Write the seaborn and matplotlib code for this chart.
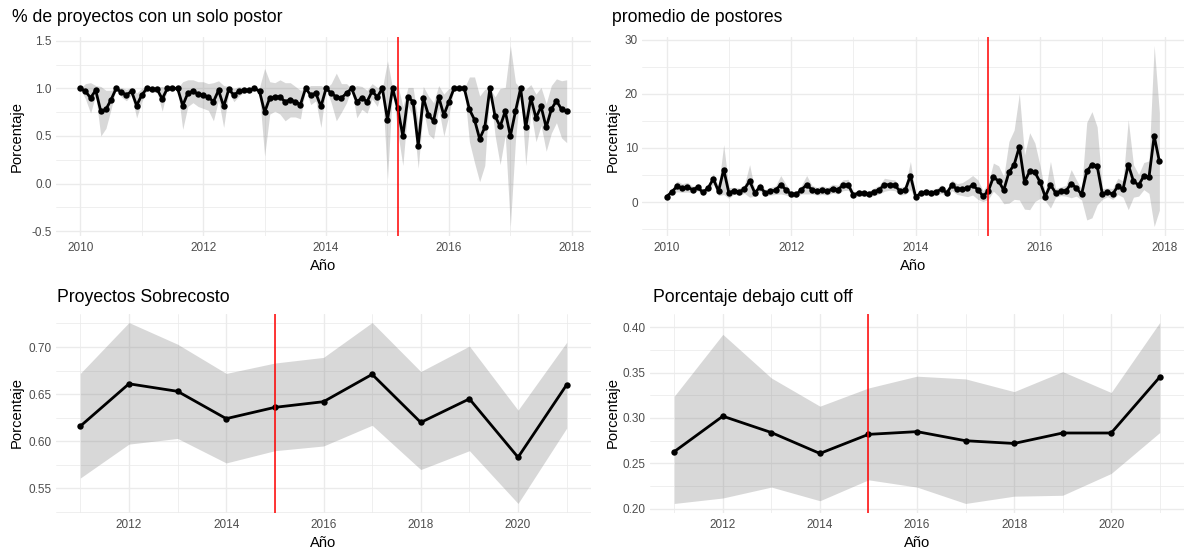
import numpy as np
import pandas as pd
import matplotlib
matplotlib.use("Agg")
import matplotlib.pyplot as plt
from matplotlib.ticker import MultipleLocator, FormatStrFormatter
import seaborn as sns

# --- Series mensuales (enero 2010 - diciembre 2017) ---
solo_postor = [
    1.00, 0.97, 0.90, 0.98, 0.76, 0.78, 0.88, 1.00, 0.96, 0.93, 0.97, 0.82,
    0.93, 1.00, 0.99, 0.99, 0.89, 1.00, 1.00, 1.00, 0.82, 0.95, 0.97, 0.94,
    0.93, 0.91, 0.86, 0.98, 0.81, 0.99, 0.93, 0.97,
    0.98, 0.98, 1.00, 0.97, 0.75, 0.90, 0.91, 0.91, 0.86, 0.88, 0.86, 0.83,
    1.00, 0.93, 0.95, 0.81, 1.00, 0.95, 0.91, 0.90, 0.95, 1.00, 0.86, 0.90,
    0.86, 0.97, 0.91, 1.00, 0.67, 1.00, 0.79,
    0.50, 0.91, 0.86, 0.40, 0.90, 0.72, 0.66, 0.91, 0.72, 0.86, 1.00, 1.00,
    1.00, 0.78, 0.67, 0.47, 0.59, 1.00, 0.71, 0.60, 0.76, 0.50, 0.76, 1.00,
    0.59, 0.90, 0.69, 0.81, 0.59, 0.78, 0.87, 0.78, 0.76,
]
solo_postor_margen = [
    0.00, 0.08, 0.16, 0.05, 0.26, 0.20, 0.10, 0.00, 0.05, 0.06, 0.04, 0.13,
    0.07, 0.02, 0.03, 0.03, 0.13, 0.00, 0.00, 0.00, 0.25, 0.14, 0.12, 0.13,
    0.14, 0.14, 0.20, 0.10, 0.22, 0.03, 0.07, 0.05,
    0.02, 0.02, 0.00, 0.04, 0.46, 0.17, 0.15, 0.18, 0.20, 0.18, 0.16, 0.15,
    0.00, 0.10, 0.08, 0.22, 0.00, 0.10, 0.25, 0.15, 0.10, 0.00, 0.17, 0.12,
    0.12, 0.08, 0.10, 0.00, 0.62, 0.00, 0.25,
    0.31, 0.10, 0.15, 0.24, 0.12, 0.20, 0.19, 0.12, 0.22, 0.14, 0.00, 0.00,
    0.00, 0.34, 0.45, 0.45, 0.40, 0.00, 0.20, 0.40, 0.25, 0.95, 0.30, 0.00,
    0.40, 0.14, 0.25, 0.20, 0.25, 0.25, 0.23, 0.30, 0.33,
]
postores = [
    1.0, 1.9, 2.9, 2.6, 2.75, 2.3, 2.7, 1.8, 2.6, 4.3, 2.0, 6.0,
    1.7, 2.1, 1.9, 2.4, 3.9, 1.7, 2.8, 1.7, 2.0, 2.2, 3.2, 2.3,
    1.4, 1.4, 2.3, 3.2, 2.3, 2.0,
    2.2, 2.0, 2.5, 2.3, 3.1, 3.2, 1.3, 1.7, 1.6, 1.5, 1.9, 2.3,
    3.2, 3.2, 3.1, 2.0, 2.2, 4.9, 1.0,
    1.6, 1.9, 1.7, 1.9, 2.4, 1.7, 3.1, 2.4, 2.4, 2.6, 3.1, 2.3, 1.1, 2.0,
    4.6, 3.9, 2.2, 5.5, 6.9, 10.2, 3.7, 5.7, 5.5, 3.7, 1.0, 3.2,
    1.7, 2.0, 2.1, 3.4, 2.6, 1.4, 5.7, 6.9, 6.7, 1.5, 1.8, 1.5,
    2.9, 2.4, 6.9, 3.9, 3.1, 4.8, 4.6, 12.2, 7.5,
]
postores_margen = [
    0.3, 0.5, 1.0, 0.8, 0.9, 0.6, 0.6, 0.5, 0.6, 1.0, 0.8, 4.6,
    1.0, 0.6, 0.7, 0.8, 3.0, 0.6, 0.8, 0.6, 0.7, 0.8, 1.7, 1.0,
    0.5, 0.5, 0.8, 1.7, 0.8, 0.7,
    0.8, 0.7, 0.8, 0.8, 1.0, 1.0, 0.5, 0.6, 0.5, 0.5, 0.7, 0.8,
    1.2, 1.0, 1.0, 0.7, 0.8, 2.6, 0.4,
    0.5, 0.6, 0.6, 0.6, 0.8, 0.6, 1.0, 1.0, 1.2, 1.6, 1.8, 1.8, 1.0, 1.5,
    2.6, 2.8, 2.5, 5.7, 6.4, 9.8, 5.0, 7.1, 5.4, 3.0, 0.8, 4.3,
    0.8, 0.8, 1.0, 2.6, 1.5, 1.0, 9.0, 9.8, 7.2, 1.0, 0.8, 1.0,
    1.5, 1.5, 8.3, 3.0, 2.0, 2.5, 3.0, 16.7, 9.0,
]

# --- Series anuales (2011 - 2021) ---
anios = [2011, 2012, 2013, 2014, 2015, 2016, 2017, 2018, 2019, 2020, 2021]
sobrecosto = [0.616, 0.661, 0.653, 0.624, 0.636, 0.642, 0.671, 0.620, 0.645, 0.583, 0.660]
sobrecosto_inf = [0.561, 0.597, 0.603, 0.577, 0.590, 0.595, 0.617, 0.570, 0.590, 0.534, 0.614]
sobrecosto_sup = [0.672, 0.726, 0.703, 0.672, 0.683, 0.689, 0.726, 0.674, 0.701, 0.633, 0.705]
cutoff = [0.263, 0.302, 0.284, 0.261, 0.282, 0.285, 0.275, 0.272, 0.2835, 0.2835, 0.345]
cutoff_inf = [0.206, 0.212, 0.224, 0.209, 0.232, 0.224, 0.206, 0.214, 0.215, 0.239, 0.284]
cutoff_sup = [0.324, 0.392, 0.344, 0.313, 0.333, 0.346, 0.343, 0.329, 0.351, 0.328, 0.405]

titulos = [
    "% de proyectos con un solo postor",
    "promedio de postores",
    "Proyectos Sobrecosto",
    "Porcentaje debajo cutt off",
]
etiqueta_x = "Año"
etiqueta_y = "Porcentaje"

# Fechas de corte (marzo 2015 para las series mensuales, 2015 para las anuales)
corte_mensual = pd.Timestamp("2015-03-01")
corte_anual = 2015

# ---------------------------------------------------------------
sns.set_theme(style="white")
plt.rcParams["font.family"] = ["Liberation Sans", "DejaVu Sans"]
plt.rcParams["axes.unicode_minus"] = False

W, H = 1185, 554
fig = plt.figure(figsize=(W / 100, H / 100), dpi=100)
fig.patch.set_facecolor("white")


def año_decimal(fechas):
    fechas = pd.DatetimeIndex(fechas)
    return np.asarray(fechas.year + (fechas.month - 1) / 12.0, dtype=float)


fechas = pd.date_range("2010-01-01", periods=len(solo_postor), freq="MS")
x_mes = año_decimal(fechas)
x_corte_mes = año_decimal([corte_mensual])[0]


def add_panel(left, right, top, bottom):
    return fig.add_axes([left / W, 1 - bottom / H, (right - left) / W, (bottom - top) / H])


def dibujar(ax, x, y, lo, hi, corte, ymaj, ymin, yfmt, titulo, titulo_x, ylab_x, top_px, left_px, width_px):
    x = np.asarray(x, dtype=float)
    ax.fill_between(x, lo, hi, color="#7F7F7F", alpha=0.3, lw=0, zorder=2)
    sns.lineplot(x=x, y=np.asarray(y, dtype=float), ax=ax, color="black", lw=2.0,
                 marker="o", markersize=4.6, markeredgewidth=0, sort=False,
                 errorbar=None, zorder=3)
    ax.axvline(corte, color="#FF0000", lw=1.1, zorder=4)
    ax.margins(x=0.05, y=0.05)

    ax.xaxis.set_major_locator(MultipleLocator(2))
    ax.xaxis.set_minor_locator(MultipleLocator(1))
    ax.xaxis.set_major_formatter(FormatStrFormatter("%d"))
    ax.yaxis.set_major_locator(MultipleLocator(ymaj))
    ax.yaxis.set_minor_locator(MultipleLocator(ymin))
    ax.yaxis.set_major_formatter(FormatStrFormatter(yfmt))

    ax.set_axisbelow(True)
    ax.grid(which="major", color="#EBEBEB", lw=1.0)
    ax.grid(which="minor", color="#EBEBEB", lw=0.55)
    for s in ax.spines.values():
        s.set_visible(False)
    ax.set_facecolor("white")
    ax.tick_params(which="both", length=0)
    ax.tick_params(axis="x", labelsize=8.45, labelcolor="#4D4D4D", pad=5.0)
    ax.tick_params(axis="y", labelsize=8.45, labelcolor="#4D4D4D", pad=3.0)

    ax.set_xlabel(etiqueta_x, fontsize=10.6, color="black")
    ax.xaxis.set_label_coords(0.5, -30.5 / 199)
    ax.xaxis.label.set_va("center")
    ax.set_ylabel(etiqueta_y, fontsize=10.6, color="black")
    ax.yaxis.set_label_coords(-(left_px - ylab_x) / width_px, 0.5)
    ax.yaxis.label.set_va("center")

    fig.text(titulo_x / W, 1 - top_px / H, titulo, fontsize=12.7, color="black",
             ha="left", va="center")


# Panel superior izquierdo
ax1 = add_panel(56, 591, 36.5, 235.5)
sp = np.asarray(solo_postor)
spm = np.asarray(solo_postor_margen)
dibujar(ax1, x_mes, sp, sp - spm, sp + spm, x_corte_mes, 0.5, 0.25, "%.1f",
        titulos[0], 12, 17, 18, 56, 535)

# Panel superior derecho
ax2 = add_panel(642, 1184, 36.5, 235.5)
pp = np.asarray(postores)
ppm = np.asarray(postores_margen)
dibujar(ax2, x_mes, pp, pp - ppm, pp + ppm, x_corte_mes, 10, 5, "%d",
        titulos[1], 612, 613, 18, 642, 542)

# Panel inferior izquierdo
ax3 = add_panel(56, 591, 313.5, 512.5)
dibujar(ax3, anios, sobrecosto, sobrecosto_inf, sobrecosto_sup, corte_anual, 0.05, 0.025, "%.2f",
        titulos[2], 57, 17, 297, 56, 535)

# Panel inferior derecho
ax4 = add_panel(650, 1184, 313.5, 512.5)
dibujar(ax4, anios, cutoff, cutoff_inf, cutoff_sup, corte_anual, 0.05, 0.025, "%.2f",
        titulos[3], 653, 613, 297, 650, 534)

fig.savefig("out.png", dpi=100, facecolor="white")
